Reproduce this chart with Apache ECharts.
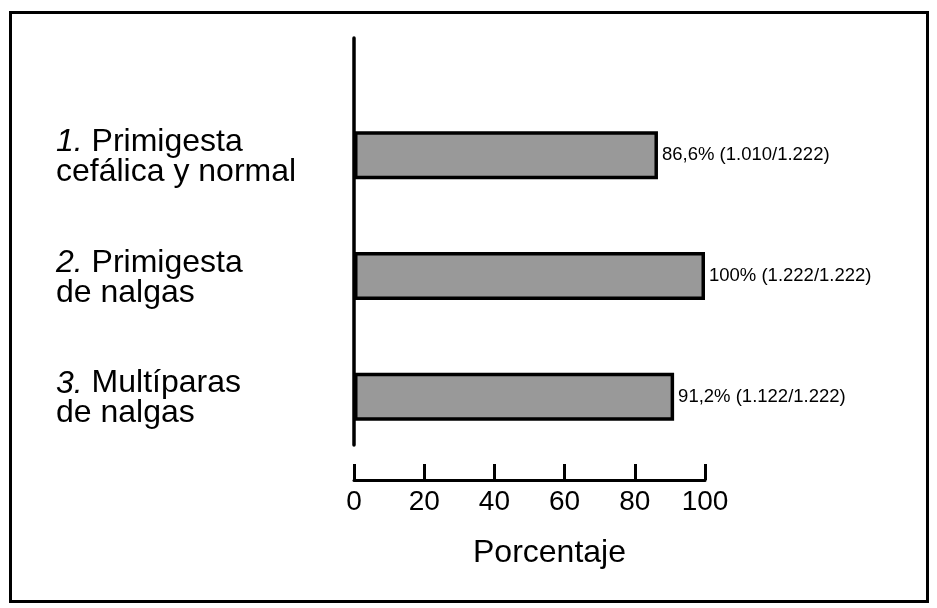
<!DOCTYPE html>
<html>
<head>
<meta charset="utf-8">
<script src="https://cdn.jsdelivr.net/npm/echarts@6/dist/echarts.min.js"></script>
<style>html,body{margin:0;padding:0;background:#fff}#c{width:937px;height:608px}</style>
</head>
<body>
<div id="c"></div>
<script>
const categoryNumbers = ['1.', '2.', '3.'];
const categoryNames = ['Primigesta\ncefálica y normal', 'Primigesta\nde nalgas', 'Multíparas\nde nalgas'];
const percentValues = [86.6, 100, 91.2];
const barLabels = ['86,6% (1.010/1.222)', '100% (1.222/1.222)', '91,2% (1.122/1.222)'];
const xTicks = [0, 20, 40, 60, 80, 100];
const xAxisName = 'Porcentaje';

const FONT = "'Liberation Sans', Arial, Helvetica, sans-serif";
const categories = categoryNumbers.map((n, i) => n + ' ' + categoryNames[i]);

const chart = echarts.init(document.getElementById('c'), null, {renderer: 'canvas'});
chart.setOption({
  backgroundColor: '#fff',
  animation: false,
  textStyle: {fontFamily: FONT, color: '#000'},
  graphic: [{
    type: 'rect', left: 8, top: 10, z: -1,
    shape: {width: 917, height: 589},
    style: {fill: 'none', stroke: '#000', lineWidth: 3}
  }],
  grid: [
    {left: 354, width: 351, top: 95, height: 362},
    {left: 354, width: 351, top: 38, height: 407}
  ],
  xAxis: [
    {
      gridIndex: 0, type: 'value', min: xTicks[0], max: xTicks[xTicks.length - 1], interval: 20,
      position: 'bottom', offset: 23,
      axisLine: {show: true, lineStyle: {color: '#000', width: 3}},
      axisTick: {show: true, inside: true, length: 16, lineStyle: {color: '#000', width: 3}},
      axisLabel: {fontSize: 28, color: '#000', margin: 8, fontFamily: FONT},
      splitLine: {show: false},
      name: xAxisName, nameLocation: 'middle', nameGap: 57,
      nameTextStyle: {fontSize: 32, color: '#000', fontFamily: FONT, padding: [0, 0, 0, 40]}
    },
    {gridIndex: 1, type: 'value', show: false, min: 0, max: 100}
  ],
  yAxis: [
    {
      gridIndex: 0, type: 'category', inverse: true, data: categories,
      axisLine: {show: false}, axisTick: {show: false},
      axisLabel: {
        align: 'left', margin: 298, fontSize: 32, lineHeight: 30, padding: [4, 0, 0, 0],
        color: '#000', fontFamily: FONT,
        formatter: function (v) {
          const idx = categories.indexOf(v);
          const lines = categoryNames[idx].split('\n');
          return '{i|' + categoryNumbers[idx] + '} ' + lines[0] + '\n' + lines.slice(1).join('\n');
        },
        rich: {i: {fontStyle: 'italic', fontSize: 32, fontFamily: FONT, color: '#000', lineHeight: 30}}
      },
      splitLine: {show: false}
    },
    {
      gridIndex: 1, type: 'value', min: 0, max: 1,
      axisLine: {show: true, onZero: false, lineStyle: {color: '#000', width: 3.5}},
      axisTick: {show: false}, axisLabel: {show: false}, splitLine: {show: false}
    }
  ],
  series: [{
    type: 'bar', xAxisIndex: 0, yAxisIndex: 0,
    data: percentValues, barWidth: 48,
    itemStyle: {color: '#999999', borderColor: '#000', borderWidth: 3.5},
    label: {
      show: true, position: 'right', distance: 4, fontSize: 18.5, color: '#000', fontFamily: FONT,
      formatter: p => barLabels[p.dataIndex]
    }
  }]
});
</script>
</body>
</html>
